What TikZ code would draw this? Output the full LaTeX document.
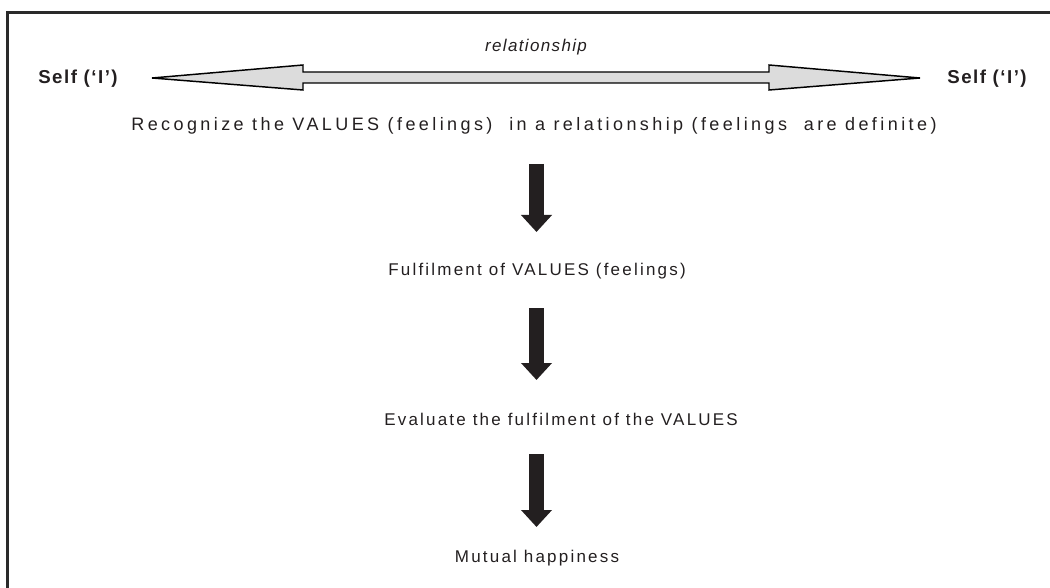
\documentclass[tikz,border=0pt]{standalone}
\usepackage{fontspec}
\setmainfont{Liberation Sans}
\usetikzlibrary{arrows.meta}
\definecolor{ink}{HTML}{231F20}
\definecolor{pale}{HTML}{DCDCDC}
\definecolor{framec}{HTML}{2A2A2A}
\begin{document}
\begin{tikzpicture}[x=0.75pt,y=-0.75pt,
  every node/.style={inner sep=0pt, text=ink},
  plain/.style={anchor=base, font=\fontsize{12.75}{15}\selectfont\addfontfeature{LetterSpace=13}},
  wide/.style={anchor=base, font=\fontsize{13.5}{16}\selectfont\addfontfeature{LetterSpace=19}},
  selfl/.style={anchor=base, font=\fontsize{14}{16}\selectfont\bfseries\addfontfeature{LetterSpace=8}},
  rel/.style={anchor=base, font=\fontsize{12.75}{15}\selectfont\itshape\addfontfeature{LetterSpace=8}},
  downarrow/.style={draw=ink, line width=11.25pt, line cap=butt,
     -{Triangle[length=12.75pt, width=22.5pt]}},
  bothways/.style={draw=black, line width=1.1pt, fill=pale, line join=miter}]
\useasboundingbox (0,0) rectangle (1050,588);
% frame
\draw[framec, line width=2pt] (7.5,588) -- (7.5,12.5) -- (1050,12.5);
% self labels
\node[selfl] (selfL) at (78,84) {Self (‘I’)};
\node[selfl] (selfR) at (987,84) {Self (‘I’)};
\node[rel] (rel) at (536,52) {relationship};
% double arrow
\coordinate (tipL) at (152,78);
\coordinate (tipR) at (920,78);
\draw[bothways] (tipL) -- (303,65) -- (303,72) -- (769,72) -- (769,65) -- (tipR)
  -- (769,90) -- (769,83) -- (303,83) -- (303,90) -- cycle;
% texts
\node[wide] (rec) at (534,131) {Recognize the VALUES (feelings)\ \ in a relationship (feelings\ \ are definite)};
\node[plain] (ful) at (537,275) {Fulfilment of VALUES (feelings)};
\node[plain, anchor=base west] (eva) at (384,425) {Evaluate the fulfilment of the VALUES};
\node[plain] (mut) at (537,562) {Mutual happiness};
% down arrows
\coordinate (a1s) at (536.5,164); \coordinate (a1e) at (536.5,232);
\coordinate (a2s) at (536.5,308); \coordinate (a2e) at (536.5,380);
\coordinate (a3s) at (536.5,454); \coordinate (a3e) at (536.5,527);
\draw[downarrow] (a1s) -- (a1e);
\draw[downarrow] (a2s) -- (a2e);
\draw[downarrow] (a3s) -- (a3e);
\end{tikzpicture}
\end{document}
